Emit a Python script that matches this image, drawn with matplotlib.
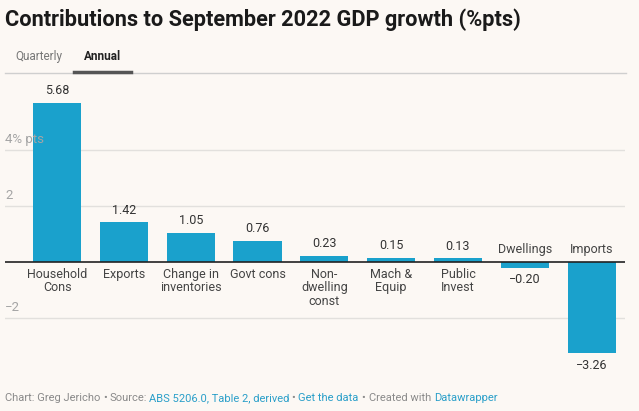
import matplotlib.pyplot as plt
import numpy as np

plt.rcParams['font.family'] = ['Roboto', 'DejaVu Sans']

categories = ["Household\nCons", "Exports", "Change in\ninventories", "Govt cons",
              "Non-\ndwelling\nconst", "Mach &\nEquip", "Public\nInvest", "Dwellings", "Imports"]
values = [5.68, 1.42, 1.05, 0.76, 0.23, 0.15, 0.13, -0.20, -3.26]
yticks = [-2, 2, 4]
ytick_labels = ["\u22122", "2", "4% pts"]

bg = "#fcf8f4"
bar_col = "#1aa1cc"
grey = "#8a8a8a"
link = "#2a9fc9"

fig = plt.figure(figsize=(6.39, 4.11), dpi=100)
fig.patch.set_facecolor(bg)
ax = fig.add_axes([5/639, 1-360/411, 620/639, 270/411])
ax.set_facecolor(bg)

x = np.arange(len(values))
ax.bar(x, values, width=0.72, color=bar_col, zorder=3)
ax.set_xlim(-0.78, 8.5)
ax.set_ylim(-3.5, 6.14)

for t, lab in zip(yticks, ytick_labels):
    ax.axhline(t, color="#e2e0dd", lw=1, zorder=1)
    ax.annotate(lab, (0, t), xycoords=('axes fraction', 'data'), xytext=(0, 3),
                textcoords='offset points', ha='left', va='bottom', color="#a5a5a5",
                fontsize=9.5, zorder=6)
ax.axhline(0, color="#222222", lw=1.2, zorder=4)

for xi, v, c in zip(x, values, categories):
    if v >= 0:
        ax.annotate("{:.2f}".format(v), (xi, v), xytext=(0, 4), textcoords='offset points',
                    ha='center', va='bottom', fontsize=9, color="#333333")
        ax.annotate(c, (xi, 0), xytext=(0, -4), textcoords='offset points',
                    ha='center', va='top', fontsize=9, color="#444444", linespacing=1.05)
    else:
        ax.annotate("{:.2f}".format(v).replace("-", "\u2212"), (xi, v), xytext=(0, -4),
                    textcoords='offset points', ha='center', va='top', fontsize=9, color="#333333")
        ax.annotate(c, (xi, 0), xytext=(0, 4), textcoords='offset points',
                    ha='center', va='bottom', fontsize=9, color="#444444")

ax.set_xticks([])
ax.set_yticks([])
for s in ax.spines.values():
    s.set_visible(False)

# header
fig.text(5/639, 1-20/411, "Contributions to September 2022 GDP growth (%pts)",
         fontsize=15.7, fontweight='bold', color="#1a1a1a", va='center', ha='left')
fig.text(15/639, 1-56/411, "Quarterly", fontsize=8.5, color="#777777", va='center', ha='left')
fig.text(84/639, 1-56/411, "Annual", fontsize=8.5, color="#222222", fontweight='bold',
         va='center', ha='left')
fig.add_artist(plt.Line2D([5/639, 626/639], [1-73.5/411, 1-73.5/411], color="#cfcfcf", lw=1))
fig.add_artist(plt.Line2D([74/639, 131/639], [1-72/411, 1-72/411], color="#555555", lw=2.5))

# footer, piece by piece so the links can be coloured
parts = [("Chart: Greg Jericho", grey), ("\u2022", grey), ("Source:", grey),
         ("ABS 5206.0, Table 2, derived", link), ("\u2022", grey), ("Get the data", link),
         ("\u2022", grey), ("Created with", grey), ("Datawrapper", link)]
gaps = [2.0, 2.0, 1.0, 2.0, 2.0, 2.0, 2.6, 2.0]
prev = fig.text(5/639, 1-401/411, parts[0][0], fontsize=8, color=parts[0][1],
                va='baseline', ha='left')
for (txt, col), g in zip(parts[1:], gaps):
    prev = ax.annotate(txt, xy=(1, 0), xycoords=prev, xytext=(g, 0), textcoords='offset points',
                       fontsize=8, color=col, va='bottom', ha='left', annotation_clip=False)

fig.savefig("out.png", dpi=100, facecolor=bg)
